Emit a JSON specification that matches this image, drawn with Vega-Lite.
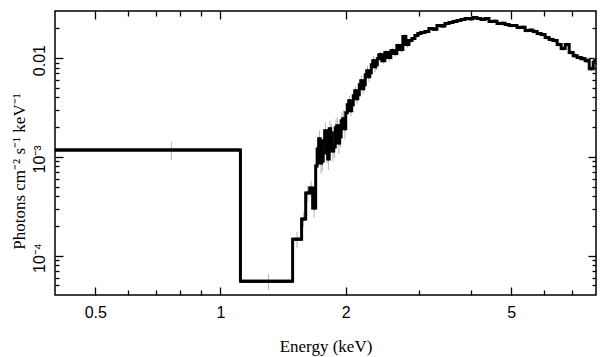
{
  "$schema": "https://vega.github.io/schema/vega-lite/v6.json",
  "width": 541,
  "height": 284,
  "autosize": "none",
  "padding": {"left": 55, "top": 11, "right": 13, "bottom": 62},
  "background": "white",
  "config": {
    "view": {"stroke": "black", "strokeWidth": 1.5},
    "axis": {
      "domain": false, "grid": false, "tickColor": "black", "tickWidth": 1.3,
      "labelFont": "Liberation Sans", "labelFontSize": 16, "labelColor": "black",
      "titleFont": "Liberation Serif, Times New Roman, serif", "titleFontSize": 17, "titleFontWeight": "normal", "titleColor": "black"
    }
  },
  "data": {"values": [
    {"elo":0.4,"ehi":1.117,"e":0.762,"f":0.001178,"err":0.00024},
    {"elo":1.117,"ehi":1.491,"e":1.305,"f":0.0000551,"err":0.00001},
    {"elo":1.491,"ehi":1.567,"e":1.528,"f":0.0001471,"err":0.000027},
    {"elo":1.567,"ehi":1.603,"e":1.585,"f":0.0002348,"err":0.00004},
    {"elo":1.603,"ehi":1.639,"e":1.621,"f":0.000431,"err":0.00008},
    {"elo":1.639,"ehi":1.666,"e":1.652,"f":0.000484,"err":0.00009},
    {"elo":1.666,"ehi":1.694,"e":1.68,"f":0.0003035,"err":0.00006},
    {"elo":1.694,"ehi":1.708,"e":1.701,"f":0.0008103,"err":0.00018},
    {"elo":1.708,"ehi":1.7224,"e":1.715,"f":0.001206,"err":0.00027},
    {"elo":1.7224,"ehi":1.737,"e":1.73,"f":0.001523,"err":0.00033},
    {"elo":1.737,"ehi":1.7513,"e":1.744,"f":0.000869,"err":0.00019},
    {"elo":1.7513,"ehi":1.766,"e":1.759,"f":0.0009107,"err":0.0002},
    {"elo":1.766,"ehi":1.7807,"e":1.773,"f":0.001454,"err":0.00032},
    {"elo":1.7807,"ehi":1.796,"e":1.788,"f":0.001837,"err":0.0004},
    {"elo":1.796,"ehi":1.8106,"e":1.803,"f":0.001098,"err":0.00024},
    {"elo":1.8106,"ehi":1.826,"e":1.818,"f":0.0009543,"err":0.00021},
    {"elo":1.826,"ehi":1.841,"e":1.834,"f":0.001924,"err":0.00042},
    {"elo":1.841,"ehi":1.856,"e":1.849,"f":0.001753,"err":0.00039},
    {"elo":1.856,"ehi":1.8719,"e":1.864,"f":0.001151,"err":0.00025},
    {"elo":1.8719,"ehi":1.888,"e":1.88,"f":0.001263,"err":0.00028},
    {"elo":1.888,"ehi":1.9033,"e":1.896,"f":0.00197,"err":0.00043},
    {"elo":1.9033,"ehi":1.919,"e":1.911,"f":0.002064,"err":0.00045},
    {"elo":1.919,"ehi":1.9353,"e":1.927,"f":0.001387,"err":0.00031},
    {"elo":1.9353,"ehi":1.951,"e":1.943,"f":0.001596,"err":0.00035},
    {"elo":1.951,"ehi":1.9678,"e":1.959,"f":0.00232,"err":0.00051},
    {"elo":1.9678,"ehi":1.984,"e":1.976,"f":0.002431,"err":0.00053},
    {"elo":1.984,"ehi":2.0008,"e":1.992,"f":0.001924,"err":0.00042},
    {"elo":2.0008,"ehi":2.018,"e":2.009,"f":0.002798,"err":0.00034},
    {"elo":2.018,"ehi":2.0344,"e":2.026,"f":0.003373,"err":0.0004},
    {"elo":2.0344,"ehi":2.051,"e":2.043,"f":0.003703,"err":0.00044},
    {"elo":2.051,"ehi":2.0686,"e":2.06,"f":0.002931,"err":0.00035},
    {"elo":2.0686,"ehi":2.086,"e":2.077,"f":0.003373,"err":0.0004},
    {"elo":2.086,"ehi":2.1033,"e":2.095,"f":0.004162,"err":0.0005},
    {"elo":2.1033,"ehi":2.121,"e":2.112,"f":0.004678,"err":0.00056},
    {"elo":2.121,"ehi":2.1386,"e":2.13,"f":0.00388,"err":0.00047},
    {"elo":2.1386,"ehi":2.157,"e":2.148,"f":0.004261,"err":0.00051},
    {"elo":2.157,"ehi":2.1745,"e":2.166,"f":0.005381,"err":0.00065},
    {"elo":2.1745,"ehi":2.193,"e":2.184,"f":0.005908,"err":0.00071},
    {"elo":2.193,"ehi":2.211,"e":2.202,"f":0.004901,"err":0.00059},
    {"elo":2.211,"ehi":2.229,"e":2.22,"f":0.005381,"err":0.00065},
    {"elo":2.229,"ehi":2.2481,"e":2.238,"f":0.0068,"err":0.00082},
    {"elo":2.2481,"ehi":2.267,"e":2.257,"f":0.007466,"err":0.0009},
    {"elo":2.267,"ehi":2.2859,"e":2.276,"f":0.006489,"err":0.00078},
    {"elo":2.2859,"ehi":2.305,"e":2.295,"f":0.007125,"err":0.00085},
    {"elo":2.305,"ehi":2.3243,"e":2.315,"f":0.008591,"err":0.001},
    {"elo":2.3243,"ehi":2.344,"e":2.334,"f":0.009433,"err":0.0011},
    {"elo":2.344,"ehi":2.3633,"e":2.354,"f":0.008199,"err":0.00098},
    {"elo":2.3633,"ehi":2.383,"e":2.373,"f":0.008591,"err":0.001},
    {"elo":2.383,"ehi":2.403,"e":2.393,"f":0.009884,"err":0.0012},
    {"elo":2.403,"ehi":2.4433,"e":2.423,"f":0.01085,"err":0.00076},
    {"elo":2.4433,"ehi":2.4843,"e":2.464,"f":0.009433,"err":0.00066},
    {"elo":2.4843,"ehi":2.526,"e":2.505,"f":0.01137,"err":0.0008},
    {"elo":2.526,"ehi":2.5684,"e":2.547,"f":0.01012,"err":0.00071},
    {"elo":2.5684,"ehi":2.6116,"e":2.59,"f":0.01191,"err":0.00083},
    {"elo":2.6116,"ehi":2.6554,"e":2.633,"f":0.01111,"err":0.00078},
    {"elo":2.6554,"ehi":2.7,"e":2.678,"f":0.01339,"err":0.00094},
    {"elo":2.7,"ehi":2.7453,"e":2.723,"f":0.0122,"err":0.00085},
    {"elo":2.7453,"ehi":2.7914,"e":2.768,"f":0.01652,"err":0.00116},
    {"elo":2.7914,"ehi":2.8383,"e":2.815,"f":0.01371,"err":0.00096},
    {"elo":2.8383,"ehi":2.886,"e":2.862,"f":0.01505,"err":0.00105},
    {"elo":2.886,"ehi":2.9344,"e":2.91,"f":0.01577,"err":0.0011},
    {"elo":2.9344,"ehi":2.9837,"e":2.959,"f":0.01692,"err":0.00118},
    {"elo":2.9837,"ehi":3.0338,"e":3.009,"f":0.01773,"err":0.00124},
    {"elo":3.0338,"ehi":3.1019,"e":3.068,"f":0.01815,"err":0.00073},
    {"elo":3.1019,"ehi":3.1715,"e":3.137,"f":0.01857,"err":0.00074},
    {"elo":3.1715,"ehi":3.2427,"e":3.207,"f":0.01993,"err":0.0008},
    {"elo":3.2427,"ehi":3.3155,"e":3.279,"f":0.0196,"err":0.00078},
    {"elo":3.3155,"ehi":3.3899,"e":3.353,"f":0.02137,"err":0.00085},
    {"elo":3.3899,"ehi":3.466,"e":3.428,"f":0.0212,"err":0.00085},
    {"elo":3.466,"ehi":3.5438,"e":3.505,"f":0.0224,"err":0.0009},
    {"elo":3.5438,"ehi":3.6233,"e":3.584,"f":0.02293,"err":0.00092},
    {"elo":3.6233,"ehi":3.7046,"e":3.664,"f":0.02347,"err":0.00094},
    {"elo":3.7046,"ehi":3.7877,"e":3.746,"f":0.02403,"err":0.00096},
    {"elo":3.7877,"ehi":3.8727,"e":3.83,"f":0.0246,"err":0.00098},
    {"elo":3.8727,"ehi":3.9596,"e":3.916,"f":0.02518,"err":0.001},
    {"elo":3.9596,"ehi":4.0485,"e":4.004,"f":0.025,"err":0.001},
    {"elo":4.0485,"ehi":4.1393,"e":4.094,"f":0.02577,"err":0.00103},
    {"elo":4.1393,"ehi":4.2322,"e":4.186,"f":0.02518,"err":0.001},
    {"elo":4.2322,"ehi":4.3272,"e":4.28,"f":0.0246,"err":0.00098},
    {"elo":4.3272,"ehi":4.4243,"e":4.376,"f":0.02518,"err":0.001},
    {"elo":4.4243,"ehi":4.5236,"e":4.474,"f":0.02347,"err":0.00094},
    {"elo":4.5236,"ehi":4.6251,"e":4.574,"f":0.0236,"err":0.00094},
    {"elo":4.6251,"ehi":4.7289,"e":4.677,"f":0.0224,"err":0.0009},
    {"elo":4.7289,"ehi":4.835,"e":4.782,"f":0.0225,"err":0.0009},
    {"elo":4.835,"ehi":4.9435,"e":4.889,"f":0.02188,"err":0.00088},
    {"elo":4.9435,"ehi":5.0544,"e":4.999,"f":0.02137,"err":0.00085},
    {"elo":5.0544,"ehi":5.1678,"e":5.111,"f":0.0214,"err":0.00086},
    {"elo":5.1678,"ehi":5.2838,"e":5.226,"f":0.0204,"err":0.00082},
    {"elo":5.2838,"ehi":5.4024,"e":5.343,"f":0.0205,"err":0.00082},
    {"elo":5.4024,"ehi":5.5236,"e":5.463,"f":0.01901,"err":0.00076},
    {"elo":5.5236,"ehi":5.6476,"e":5.586,"f":0.0192,"err":0.00077},
    {"elo":5.6476,"ehi":5.7743,"e":5.711,"f":0.01857,"err":0.00074},
    {"elo":5.7743,"ehi":5.9039,"e":5.839,"f":0.01773,"err":0.00071},
    {"elo":5.9039,"ehi":6.0364,"e":5.97,"f":0.01732,"err":0.00087},
    {"elo":6.0364,"ehi":6.1718,"e":6.104,"f":0.01614,"err":0.00081},
    {"elo":6.1718,"ehi":6.3103,"e":6.241,"f":0.0154,"err":0.00077},
    {"elo":6.3103,"ehi":6.4519,"e":6.381,"f":0.01505,"err":0.00075},
    {"elo":6.4519,"ehi":6.5967,"e":6.524,"f":0.01371,"err":0.00069},
    {"elo":6.5967,"ehi":6.7448,"e":6.671,"f":0.01249,"err":0.00062},
    {"elo":6.7448,"ehi":6.8961,"e":6.82,"f":0.01371,"err":0.00069},
    {"elo":6.8961,"ehi":7.0509,"e":6.973,"f":0.01137,"err":0.00068},
    {"elo":7.0509,"ehi":7.2091,"e":7.13,"f":0.0106,"err":0.00064},
    {"elo":7.2091,"ehi":7.3709,"e":7.29,"f":0.01012,"err":0.00061},
    {"elo":7.3709,"ehi":7.5363,"e":7.453,"f":0.009884,"err":0.00059},
    {"elo":7.5363,"ehi":7.7054,"e":7.62,"f":0.009433,"err":0.00057},
    {"elo":7.7054,"ehi":7.8783,"e":7.791,"f":0.007824,"err":0.00047},
    {"elo":7.8783,"ehi":8.0,"e":7.939,"f":0.009433,"err":0.00057}
  ]},
  "layer": [
    {
      "mark": {"type": "point", "opacity": 0},
      "encoding": {
        "x": {"field": "elo", "type": "quantitative",
          "scale": {"type": "log", "domain": [0.4, 8], "nice": false},
          "axis": {"orient": "bottom", "values": [0.5,0.6,0.7,0.8,0.9,1,2,3,4,5,6,7],
            "tickSize": {"condition": {"test": "datum.value==0.5||datum.value==1||datum.value==2||datum.value==5", "value": -8}, "value": -5},
            "labelExpr": "datum.value==0.5 ? '0.5' : datum.value==1 ? '1' : datum.value==2 ? '2' : datum.value==5 ? '5' : ''",
            "labelOverlap": false, "labelFlush": false, "labelPadding": 17, "labelBaseline": "top",
            "title": "Energy (keV)", "titleY": 56, "titleBaseline": "alphabetic",
            "titleFont": "Liberation Serif, Times New Roman, serif"}},
        "y": {"field": "f", "type": "quantitative",
          "scale": {"type": "log", "domain": [0.00004, 0.03], "nice": false},
          "axis": {"orient": "left",
            "values": [0.00005,0.00006,0.00007,0.00008,0.00009,0.0001,0.0002,0.0003,0.0004,0.0005,0.0006,0.0007,0.0008,0.0009,0.001,0.002,0.003,0.004,0.005,0.006,0.007,0.008,0.009,0.01,0.02],
            "tickSize": {"condition": {"test": "datum.value==0.0001||datum.value==0.001||datum.value==0.01", "value": -8}, "value": -4},
            "labelExpr": "datum.value==0.01 ? '0.01' : datum.value==0.001 ? '10⁻³' : datum.value==0.0001 ? '10⁻⁴' : ''",
            "labelAngle": -90, "labelAlign": "center", "labelBaseline": "alphabetic", "labelOverlap": false, "labelFlush": false,
            "labelPadding": 19, "labelOffset": 2,
            "title": "Photons cm⁻² s⁻¹ keV⁻¹", "titleX": -31, "titleY": 160, "titleAngle": -90, "titleBaseline": "alphabetic", "titleAlign": "center",
            "titleFont": "Liberation Serif, Times New Roman, serif"}}
      }
    },
    {
      "mark": {"type": "point", "opacity": 0},
      "encoding": {
        "x": {"field": "elo", "type": "quantitative",
          "scale": {"type": "log", "domain": [0.4, 8], "nice": false},
          "axis": {"orient": "top", "values": [0.5,0.6,0.7,0.8,0.9,1,2,3,4,5,6,7],
            "tickSize": {"condition": {"test": "datum.value==0.5||datum.value==1||datum.value==2||datum.value==5", "value": -8}, "value": -5},
            "labels": false, "title": null}},
        "y": {"field": "f", "type": "quantitative",
          "scale": {"type": "log", "domain": [0.00004, 0.03], "nice": false},
          "axis": {"orient": "right",
            "values": [0.00005,0.00006,0.00007,0.00008,0.00009,0.0001,0.0002,0.0003,0.0004,0.0005,0.0006,0.0007,0.0008,0.0009,0.001,0.002,0.003,0.004,0.005,0.006,0.007,0.008,0.009,0.01,0.02],
            "tickSize": {"condition": {"test": "datum.value==0.0001||datum.value==0.001||datum.value==0.01", "value": -8}, "value": -4},
            "labels": false, "title": null}}
      }
    },
    {
      "mark": {"type": "errorbar", "ticks": false, "color": "#b4b4b4", "thickness": 1},
      "encoding": {
        "x": {"field": "e", "type": "quantitative", "scale": {"type": "log", "domain": [0.4, 8], "nice": false}, "axis": null},
        "y": {"field": "f", "type": "quantitative", "scale": {"type": "log", "domain": [0.00004, 0.03], "nice": false}, "axis": null},
        "yError": {"field": "err"}
      }
    },
    {
      "mark": {"type": "line", "interpolate": "step-after", "color": "black", "strokeWidth": 3},
      "encoding": {
        "x": {"field": "elo", "type": "quantitative", "scale": {"type": "log", "domain": [0.4, 8], "nice": false}, "axis": null},
        "y": {"field": "f", "type": "quantitative", "scale": {"type": "log", "domain": [0.00004, 0.03], "nice": false}, "axis": null}
      }
    },
    {
      "mark": {"type": "rule", "color": "black", "strokeWidth": 3},
      "encoding": {
        "x": {"field": "elo", "type": "quantitative", "scale": {"type": "log", "domain": [0.4, 8], "nice": false}, "axis": null},
        "x2": {"field": "ehi"},
        "y": {"field": "f", "type": "quantitative", "scale": {"type": "log", "domain": [0.00004, 0.03], "nice": false}, "axis": null}
      }
    }
  ],
  "resolve": {"axis": {"x": "independent", "y": "independent"}}
}
